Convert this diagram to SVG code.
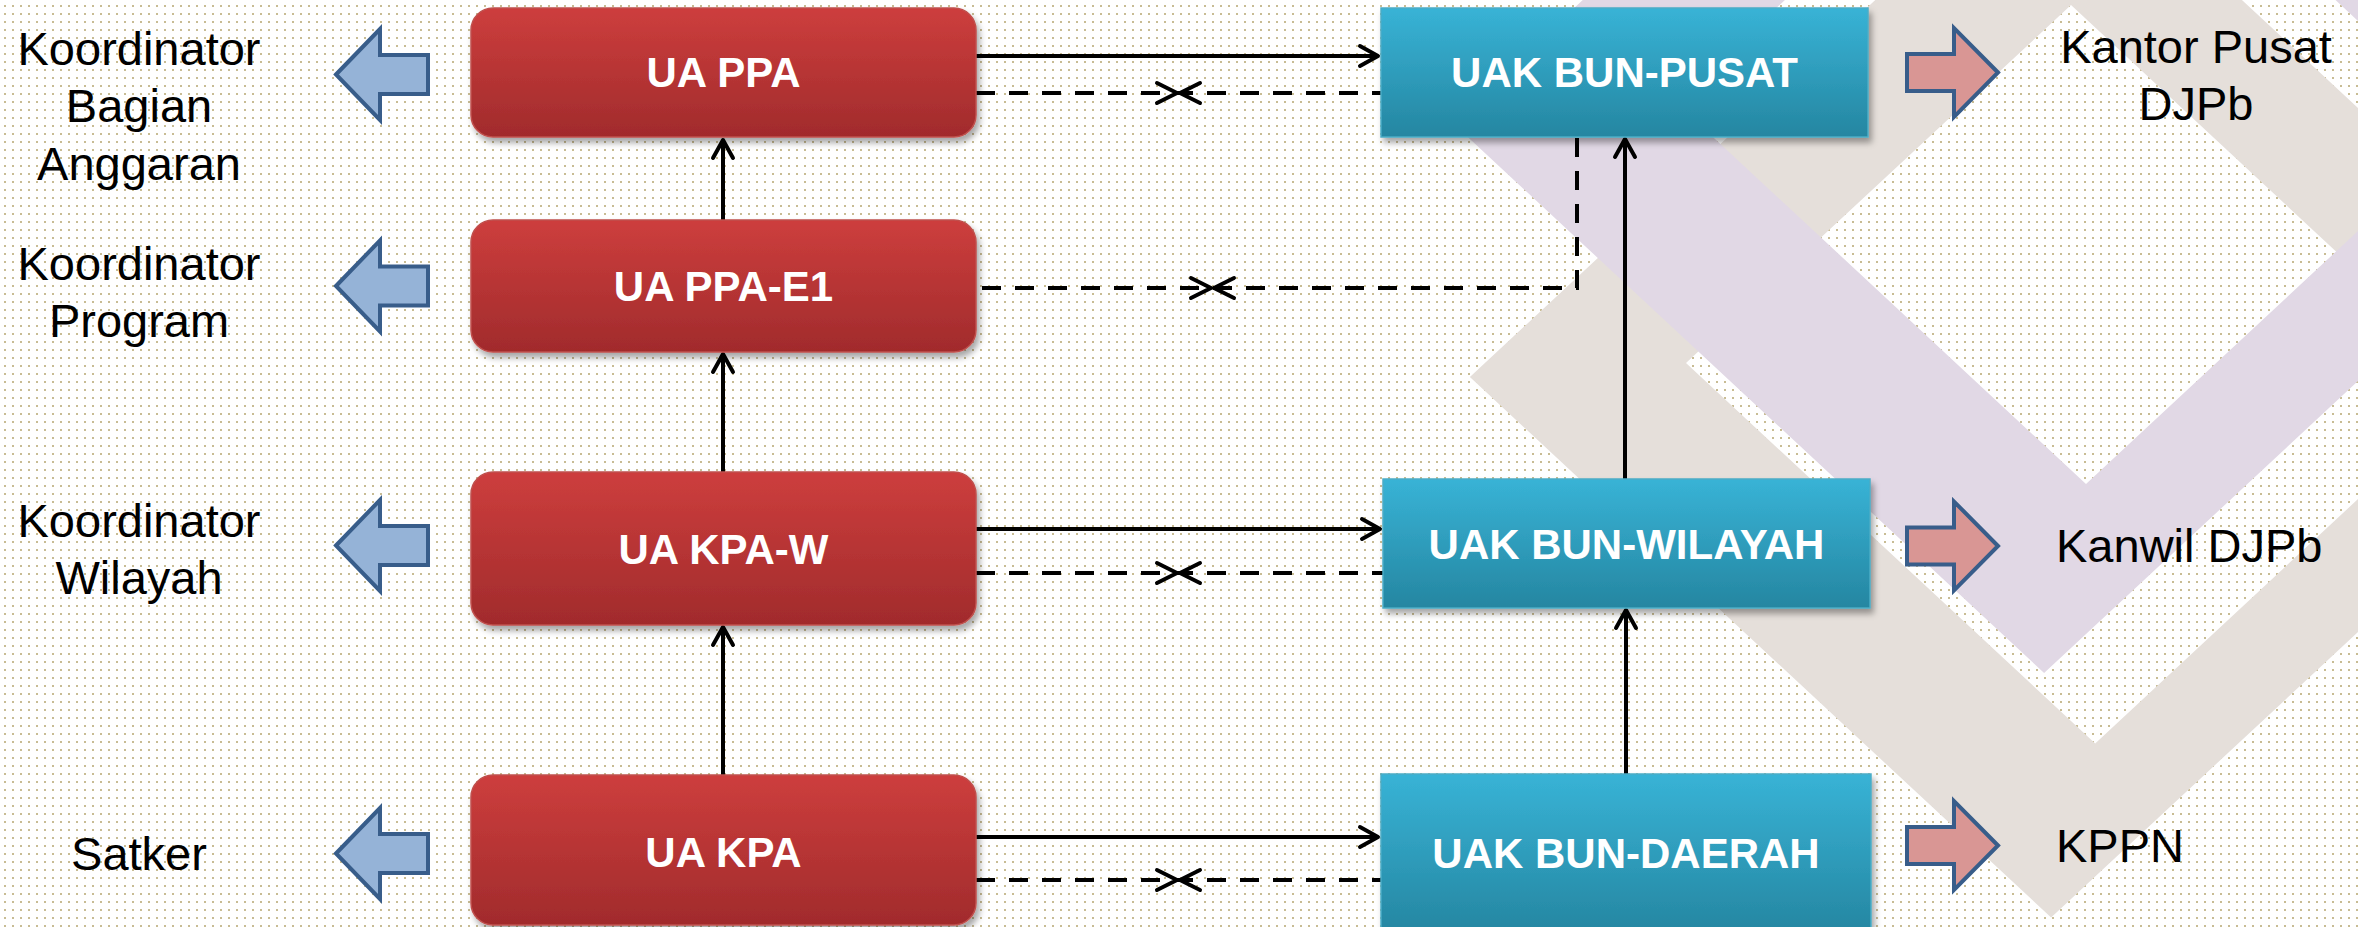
<svg xmlns="http://www.w3.org/2000/svg" width="2358" height="927" viewBox="0 0 2358 927">
<defs>
<pattern id="dots" width="8" height="8" patternUnits="userSpaceOnUse"><rect x="4" y="5" width="2" height="2" fill="#c8bc94"/></pattern>
<linearGradient id="gRed" x1="0" y1="0" x2="0" y2="1"><stop offset="0" stop-color="#cd3e3d"/><stop offset="1" stop-color="#a12b2c"/></linearGradient>
<linearGradient id="gBlue" x1="0" y1="0" x2="0" y2="1"><stop offset="0" stop-color="#38b3d6"/><stop offset="1" stop-color="#2586a1"/></linearGradient>
<filter id="sh" x="-10%" y="-15%" width="125%" height="145%"><feDropShadow dx="3" dy="5" stdDeviation="3" flood-color="#000" flood-opacity="0.35"/></filter>
<marker id="arr" markerUnits="userSpaceOnUse" viewBox="-24 -14 28 28" markerWidth="28" markerHeight="28" refX="0" refY="0" orient="auto" overflow="visible"><path d="M-18,-10 L0,0 L-18,10" fill="none" stroke="#000" stroke-width="4" stroke-linecap="round" stroke-linejoin="round"/></marker>
</defs>
<style>
.red{fill:url(#gRed);stroke:#c0504d;stroke-width:1.5;filter:url(#sh)}
.blue{fill:url(#gBlue);stroke:#4bacc6;stroke-width:1.5;filter:url(#sh)}
.nt{font-family:"Liberation Sans",Arial,sans-serif;font-weight:bold;font-size:42px;fill:#fff;text-anchor:middle}
.lb{font-family:"Liberation Sans",Arial,sans-serif;font-size:47px;fill:#000}
.lm{text-anchor:middle}
.la{fill:#95b3d7;stroke:#385d8a;stroke-width:4;stroke-linejoin:miter}
.ra{fill:#d99694;stroke:#385d8a;stroke-width:4;stroke-linejoin:miter}
.sl{fill:none;stroke:#000;stroke-width:4;marker-end:url(#arr)}
.dl{fill:none;stroke:#000;stroke-width:4;stroke-dasharray:19 14}
.ch{fill:none;stroke:#000;stroke-width:4;stroke-linecap:round;stroke-linejoin:round}
</style>
<rect width="2358" height="927" fill="#ffffff"/>
<rect width="2358" height="927" fill="url(#dots)"/>
<g id="background">
<path fill="#e5dfda" fill-rule="evenodd" d="M2058.6,-170.5 L2639.8,370 L2051.1,917.5 L1469.9,377 Z M2071,5 L2480.1,385.5 L2095.2,743.5 L1686,363 Z"/>
<path fill="#e1d8e5" fill-rule="evenodd" d="M2040.3,-425.5 L2632.8,125.5 L2044.1,673 L1451.6,122 Z M2060.2,-256 L2471,126 L2086,484 L1675.3,102 Z"/>
</g>
<g id="connectors">
<line class="sl" x1="976" y1="56" x2="1378" y2="56"/>
<line class="dl" x1="976" y1="93" x2="1381" y2="93"/>
<path class="ch" d="M1157,83 L1177,93 L1157,103 M1200,83 L1180,93 L1200,103"/>
<path class="dl" d="M1577,138 L1577,288 L976,288"/>
<path class="ch" d="M1191,278 L1211,288 L1191,298 M1234,278 L1214,288 L1234,298"/>
<line class="sl" x1="976" y1="529" x2="1380" y2="529"/>
<line class="dl" x1="976" y1="573" x2="1383" y2="573"/>
<path class="ch" d="M1157,563 L1177,573 L1157,583 M1200,563 L1180,573 L1200,583"/>
<line class="sl" x1="976" y1="837" x2="1378" y2="837"/>
<line class="dl" x1="976" y1="880" x2="1381" y2="880"/>
<path class="ch" d="M1157,870 L1177,880 L1157,890 M1200,870 L1180,880 L1200,890"/>
<line class="sl" x1="723" y1="220" x2="723" y2="140"/>
<line class="sl" x1="723" y1="472" x2="723" y2="354"/>
<line class="sl" x1="723" y1="775" x2="723" y2="627"/>
<line class="sl" x1="1625" y1="479" x2="1625" y2="139"/>
<line class="sl" x1="1626" y1="774" x2="1626" y2="610"/>
</g>
<g id="node-ua-ppa"><rect class="red" x="471" y="8" width="505" height="129" rx="22"/><text class="nt" x="723.5" y="87">UA PPA</text></g>
<g id="node-ua-ppa-e1"><rect class="red" x="471" y="220" width="505" height="132" rx="22"/><text class="nt" x="723.5" y="301">UA PPA-E1</text></g>
<g id="node-ua-kpa-w"><rect class="red" x="471" y="472" width="505" height="153" rx="22"/><text class="nt" x="723.5" y="564">UA KPA-W</text></g>
<g id="node-ua-kpa"><rect class="red" x="471" y="775" width="505" height="150" rx="22"/><text class="nt" x="723.5" y="867">UA KPA</text></g>
<g id="node-uak-bun-pusat"><rect class="blue" x="1381" y="8" width="487" height="129"/><text class="nt" x="1624.5" y="87">UAK BUN-PUSAT</text></g>
<g id="node-uak-bun-wilayah"><rect class="blue" x="1383" y="479" width="487" height="129"/><text class="nt" x="1626.5" y="559">UAK BUN-WILAYAH</text></g>
<g id="node-uak-bun-daerah"><rect class="blue" x="1381" y="774" width="490" height="160"/><text class="nt" x="1626" y="868">UAK BUN-DAERAH</text></g>
<g id="left-arrows">
<path class="la" d="M336,74.5 L380,29 L380,55 L428,55 L428,94 L380,94 L380,120 Z"/>
<path class="la" d="M336,286 L380,240.5 L380,266.5 L428,266.5 L428,305.5 L380,305.5 L380,331.5 Z"/>
<path class="la" d="M336,545.5 L380,500 L380,526 L428,526 L428,565 L380,565 L380,591 Z"/>
<path class="la" d="M336,853.5 L380,808 L380,834 L428,834 L428,873 L380,873 L380,899 Z"/>
</g>
<g id="right-arrows">
<path class="ra" d="M1998,72.5 L1954,28 L1954,54 L1907,54 L1907,91 L1954,91 L1954,117 Z"/>
<path class="ra" d="M1998,546 L1954,501.5 L1954,527.5 L1907,527.5 L1907,564.5 L1954,564.5 L1954,590.5 Z"/>
<path class="ra" d="M1998,845.5 L1954,801 L1954,827 L1907,827 L1907,864 L1954,864 L1954,890 Z"/>
</g>
<g id="left-labels">
<text class="lb lm" x="139" y="65">Koordinator</text>
<text class="lb lm" x="139" y="122">Bagian</text>
<text class="lb lm" x="139" y="180">Anggaran</text>
<text class="lb lm" x="139" y="280">Koordinator</text>
<text class="lb lm" x="139" y="337">Program</text>
<text class="lb lm" x="139" y="537">Koordinator</text>
<text class="lb lm" x="139" y="594">Wilayah</text>
<text class="lb lm" x="139" y="870">Satker</text>
</g>
<g id="right-labels">
<text class="lb lm" x="2196" y="63">Kantor Pusat</text>
<text class="lb lm" x="2196" y="120">DJPb</text>
<text class="lb" x="2056" y="562">Kanwil DJPb</text>
<text class="lb" x="2056" y="862">KPPN</text>
</g>
</svg>
